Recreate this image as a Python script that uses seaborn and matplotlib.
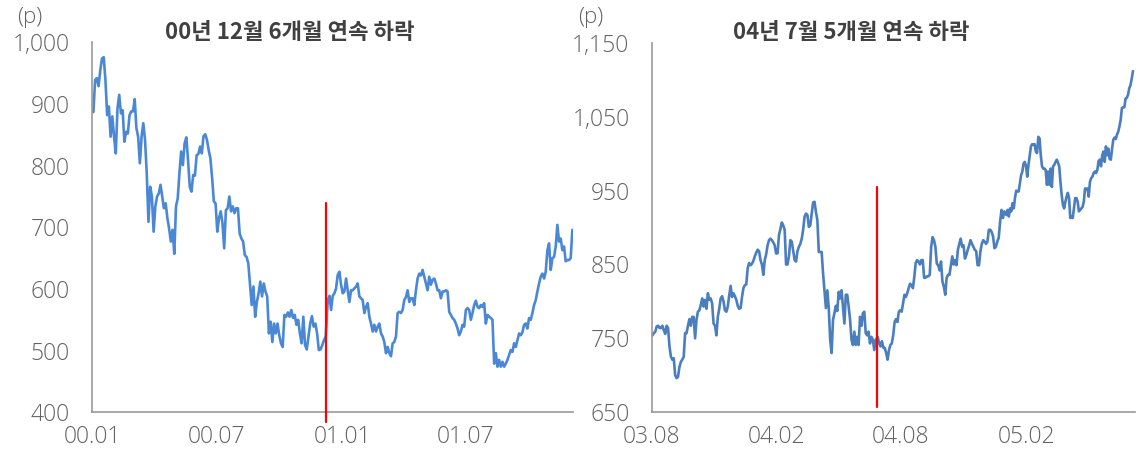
import matplotlib
matplotlib.use('Agg')
import matplotlib.pyplot as plt
import matplotlib.dates as mdates
from matplotlib.ticker import FuncFormatter
import seaborn as sns
import numpy as np
import pandas as pd

# ---- left panel: 2000.01 ~ 2001.12 (p)
left_title = '00년 12월 6개월 연속 하락'
left_pre_dates = ('2000-01-03', '2000-12-08')
left_pre = [887, 939, 942, 929, 955, 974, 976, 939, 882, 896, 847, 880, 847, 820, 893, 915, 885, 890, 839, 855,
            852, 882, 888, 888, 908, 861, 847, 804, 847, 869, 842, 788, 709, 766, 750, 693, 734, 750, 755, 769,
            750, 731, 739, 715, 698, 677, 696, 657, 734, 747, 788, 823, 801, 836, 846, 809, 766, 758, 785, 784,
            817, 819, 831, 820, 848, 851, 842, 825, 812, 780, 742, 739, 693, 715, 726, 707, 666, 728, 731, 750,
            726, 734, 723, 731, 731, 690, 682, 677, 655, 652, 642,
            609, 574, 604, 555, 579, 593, 612, 588, 609, 596, 588, 528, 547, 514, 544, 528, 544, 525, 512, 506,
            558, 555, 562, 555, 566, 553, 558, 542, 550, 528, 512, 555, 509, 502, 523, 544, 556, 539, 544, 528,
            501, 502, 509, 517, 523]
left_post_dates = ('2000-12-11', '2001-12-04')
left_post = [582, 589, 566, 589, 593, 601, 623, 628, 607, 593, 596, 617, 598, 579, 598, 598, 601, 604, 609, 588,
             585, 582, 561, 571, 577, 555, 544, 531, 542, 531, 539, 544, 528, 523, 514, 496, 506, 496, 491, 512,
             514, 523, 561, 563, 561, 566, 582, 587, 598, 579, 585, 585, 574, 598,
             617, 625, 622, 631, 620, 609, 598, 620, 607, 615, 617, 609, 598, 598, 585, 596, 596, 598, 596, 563,
             558, 553, 550, 544, 536, 525, 531, 542, 539, 566, 569, 566, 550, 561, 574, 581, 571, 569, 574, 571,
             577, 544, 558, 555, 553, 550, 479, 496, 474, 485, 474, 482, 474, 479, 485, 493, 501, 498, 512, 506,
             517, 528, 525, 530, 542, 544, 536, 553, 550, 561, 574, 582, 596, 609, 620, 625, 617, 628, 663, 674,
             631, 650, 652, 669, 704, 677, 682, 663, 669, 645, 647, 647, 650, 696]
left_event = '2000-12-09'
left_event_span = (384, 740)
left_ylim = (400, 1000)
left_xlim = ('2000-01-01', '2001-12-05')
left_xticks = ['2000-01-01', '2000-07-01', '2001-01-01', '2001-07-01']

# ---- right panel: 2003.08 ~ 2005.07 (p)
right_title = '04년 7월 5개월 연속 하락'
right_pre_dates = ('2003-08-02', '2004-06-25')
right_pre = [754, 757, 759, 766, 767, 764, 764, 767, 761, 756, 767, 764, 739, 725, 721, 723, 700, 696, 698, 711,
             718, 721, 725, 757, 757, 767, 776, 767, 779, 779, 750, 775, 786, 788, 795, 804, 793, 802, 790, 811,
             802, 804, 797, 770, 767, 754, 779, 790, 804, 807, 800, 788, 786, 793, 808, 821, 806, 811, 807, 802,
             794, 790, 791, 806, 818, 822, 823, 845, 852, 849, 851, 855, 861, 866, 870, 868, 856, 850, 836, 856,
             864, 876, 883, 885, 883, 880, 876, 865, 865, 890, 898, 907, 903, 897, 850, 850, 861, 883, 881, 868,
             856, 854, 868, 874, 878, 885, 897, 915, 919, 917, 901, 903, 919, 934, 935,
             921, 910, 867, 867, 867, 838, 815, 791, 815, 791, 748, 730, 775, 784, 794, 787, 813, 804, 815, 793,
             770, 809, 809, 793, 775, 748, 741, 759, 741, 752, 741, 779, 767, 784, 786, 757, 754, 759, 743, 752,
             748, 734, 748]
right_post_dates = ('2004-06-28', '2004-12-31')
right_post = [752, 743, 739, 746, 737, 737, 730, 721, 734, 741, 743, 754, 772, 776, 772, 786, 788, 786, 797, 809,
              806, 811, 818, 824, 822, 818, 833, 852, 856, 854, 850, 856, 856, 832, 832, 834, 834, 836, 874, 887,
              883, 874, 851, 849, 842, 854, 827, 820, 809, 832, 836, 836, 849, 861, 850, 856, 849, 870, 878, 885,
              874, 876, 858, 863, 870, 876, 883, 878, 874, 870, 868, 849, 849, 868, 878, 883, 881, 878, 881, 897,
              897, 894, 888, 872, 874, 881, 886, 908, 924, 913, 922]
right_2005_dates = ('2005-01-03', '2005-07-08')
right_2005 = [917, 924, 915, 926, 922, 933, 926, 940, 950, 949, 949, 960, 971, 976, 987, 989, 983, 969, 985, 998,
              1010, 1013, 1012, 1013, 1003, 1001, 1023, 1021, 998, 983, 980, 980, 978, 958, 976, 958, 980, 955, 983, 985,
              989, 992, 988, 983, 962, 944, 931, 926, 935, 942, 947, 940, 913, 915, 913, 926, 940, 940, 935, 922,
              924, 926, 928, 935, 953, 952, 953, 942, 962, 967, 969, 974, 976, 974, 978, 990, 992, 983, 998, 1003,
              989, 1010, 998, 1007, 993, 992, 1007, 1019, 1022, 1020, 1026, 1030, 1037, 1046, 1062, 1063, 1063, 1075,
              1076, 1080, 1089, 1093, 1102, 1112]
right_event = '2004-06-27'
right_event_span = (657, 955)
right_ylim = (650, 1150)
right_xlim = ('2003-08-01', '2005-07-11')
right_xticks = ['2003-08-01', '2004-02-01', '2004-08-01', '2005-02-01']


def build(segments):
    frames = []
    for (start, end), vals in segments:
        dates = pd.date_range(start, end, periods=len(vals))
        frames.append(pd.DataFrame({'date': dates, 'value': vals}))
    return pd.concat(frames, ignore_index=True)


left_df = build([(left_pre_dates, left_pre), (left_post_dates, left_post)])
right_df = build([(right_pre_dates, right_pre), (right_post_dates, right_post), (right_2005_dates, right_2005)])

sns.set_style('white')
plt.rcParams['font.family'] = ['Open Sans', 'Noto Sans CJK KR', 'DejaVu Sans']

fig = plt.figure(figsize=(11.39, 4.55), dpi=100)
ax1 = fig.add_axes([0.0808, 0.0938, 0.4223, 0.8130])
ax2 = fig.add_axes([0.5722, 0.0943, 0.4243, 0.8110])

panels = [
    (ax1, left_df, '#4a88d6', left_title, left_event, left_event_span, left_ylim, left_xlim, left_xticks, 100),
    (ax2, right_df, '#4a7ebf', right_title, right_event, right_event_span, right_ylim, right_xlim, right_xticks, 100),
]

for ax, df, col, title, ev, span, ylim, xlim, xticks, step in panels:
    sns.lineplot(data=df, x='date', y='value', ax=ax, color=col, linewidth=1.9)
    ev_d = pd.Timestamp(ev)
    ax.plot([ev_d, ev_d], list(span), color='#ff0000', linewidth=1.6, clip_on=False, zorder=5)
    ax.set_ylim(*ylim)
    ax.set_xlim(pd.Timestamp(xlim[0]), pd.Timestamp(xlim[1]))
    ax.set_yticks(np.arange(ylim[0], ylim[1] + 1, step))
    ax.yaxis.set_major_formatter(FuncFormatter(lambda v, p: f'{int(v):,}'))
    ax.set_xticks([pd.Timestamp(t) for t in xticks])
    ax.xaxis.set_major_formatter(mdates.DateFormatter('%y.%m'))
    ax.set_xlabel('')
    ax.set_ylabel('')
    ax.spines[['top', 'right']].set_visible(False)
    for s in ['left', 'bottom']:
        ax.spines[s].set_color('#9a9a9a')
        ax.spines[s].set_linewidth(1.2)
    ax.tick_params(direction='in', length=5, width=1, color='#9a9a9a',
                   labelsize=16.5, labelcolor='#626262')
    ax.tick_params(axis='y', pad=16)
    ax.tick_params(axis='x', pad=9)
    for lab in ax.get_xticklabels() + ax.get_yticklabels():
        lab.set_fontweight('light')
    ax.text(0.412, 1.028, title, transform=ax.transAxes, ha='center', va='center',
            fontsize=16, fontweight='bold', color='#404040',
            family=['Noto Sans CJK KR', 'DejaVu Sans'])

fig.text(30 / 1139, 1 - 17 / 455, '(p)', ha='center', va='center', fontsize=16,
         fontweight='light', color='#626262')
fig.text(591 / 1139, 1 - 17 / 455, '(p)', ha='center', va='center', fontsize=16,
         fontweight='light', color='#626262')

fig.savefig('out.png', dpi=100)
